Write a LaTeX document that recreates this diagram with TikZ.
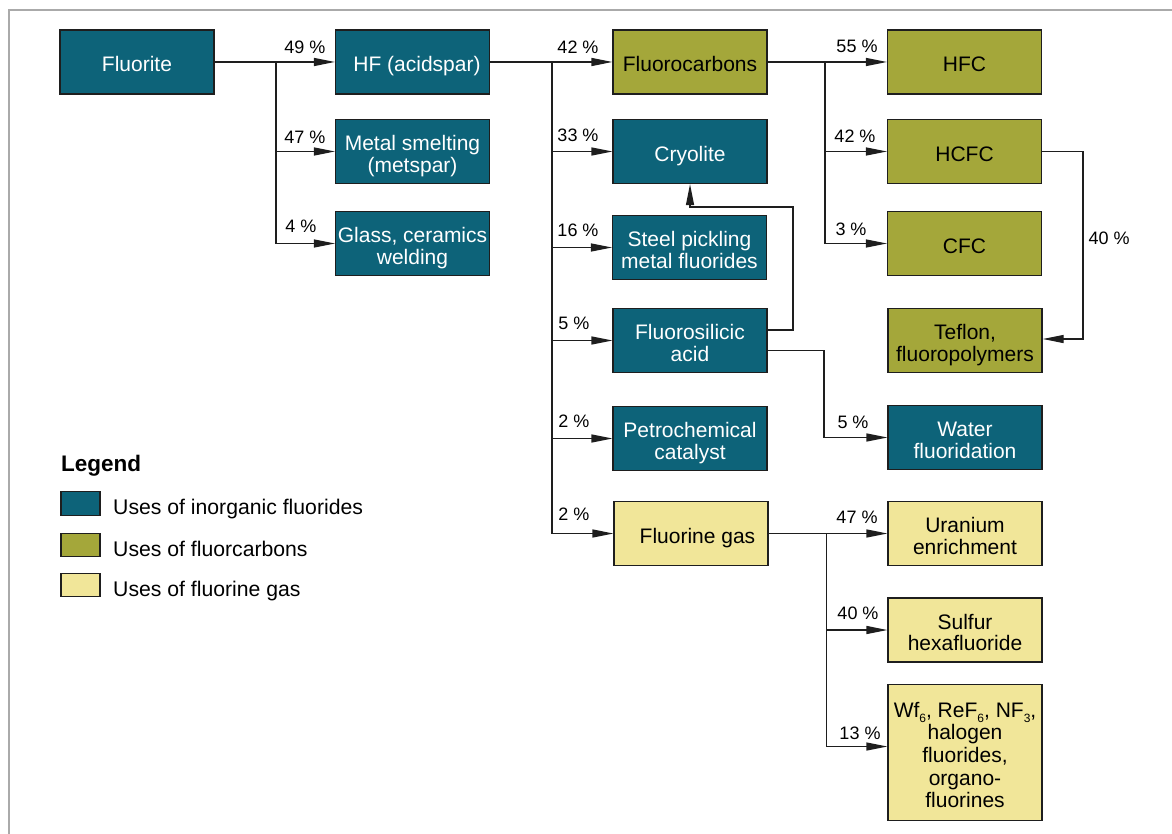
\documentclass[tikz,border=0pt]{standalone}
\usepackage{fontspec}
\setmainfont{Liberation Sans}
\usetikzlibrary{arrows.meta}
\definecolor{cteal}{RGB}{13,99,121}
\definecolor{colive}{RGB}{164,167,58}
\definecolor{cyellow}{RGB}{241,230,153}
\definecolor{cline}{RGB}{30,30,30}
\definecolor{cframe}{RGB}{170,170,170}
\newcommand{\tstrut}{\vrule width 0pt height 24.5pt depth 0pt\relax}
\newcommand{\lowsub}[1]{\raisebox{-5pt}{\fontsize{12}{12}\selectfont #1}}
\begin{document}
\begin{tikzpicture}[x=1pt,y=-1pt,
  box/.style={draw=cline, line width=1.2pt, minimum width=154pt, minimum height=64pt, inner sep=0pt, align=center,
    font=\fontsize{21}{21.5}\selectfont,
    execute at end node={\vrule width 0pt height 0pt depth 4.5pt}},
  inorg/.style={box, fill=cteal, text=white},
  fcarb/.style={box, fill=colive, text=black},
  fgas/.style={box, fill=cyellow, text=black},
  conn/.style={line width=1.2pt, draw=cline},
  arr/.style={conn, -{Triangle[length=21pt,width=8pt]}},
  pct/.style={font=\fontsize{18}{20}\selectfont, inner sep=0pt},
  swatch/.style={draw=cline, line width=1.2pt, minimum width=39pt, minimum height=23.5pt, inner sep=0pt},
  legtext/.style={anchor=base west, inner sep=0pt, font=\fontsize{21.2}{23}\selectfont}]
\useasboundingbox (0,0) rectangle (1172,834);
\draw[cframe, line width=1.5pt] (9,850) -- (9,10) -- (1190,10);

% column 1
\node[inorg] (fluorite) at (137,62) {\tstrut Fluorite};
% column 2
\node[inorg] (hf) at (412.5,62) {\tstrut\hspace*{9pt}HF (acidspar)};
\node[inorg] (metal) at (412.5,151.5) {\tstrut Metal smelting\\(metspar)};
\node[inorg] (glass) at (412.5,243.5) {\tstrut Glass, ceramics\\welding};
% column 3
\node[fcarb] (fluorocarbons) at (690,62) {\tstrut Fluorocarbons};
\node[inorg] (cryolite) at (690,151.5) {\tstrut Cryolite};
\node[inorg] (steel) at (689.5,247.5) {\tstrut Steel pickling\\metal fluorides};
\node[inorg] (fsa) at (690,340.5) {\tstrut Fluorosilicic\\acid};
\node[inorg] (petro) at (690,438.5) {\tstrut Petrochemical\\catalyst};
\node[fgas] (fgas) at (691,533.5) {\tstrut\hspace*{13pt}Fluorine gas};
% column 4
\node[fcarb] (hfc) at (964.5,62) {\tstrut HFC};
\node[fcarb] (hcfc) at (964.5,151.5) {\tstrut HCFC};
\node[fcarb] (cfc) at (964.5,243.5) {\tstrut CFC};
\node[fcarb] (teflon) at (965,340.5) {\tstrut Teflon,\\fluoropolymers};
\node[inorg] (water) at (965,437.5) {\tstrut Water\\fluoridation};
\node[fgas] (uranium) at (965,533.5) {\tstrut Uranium\\enrichment};
\node[fgas] (sulfur) at (965,630) {\tstrut Sulfur\\hexafluoride};
\node[fgas, minimum height=136pt, font=\fontsize{21}{22.7}\selectfont] (wf) at (965,752.5) {\tstrut Wf\lowsub{6}, ReF\lowsub{6}, NF\lowsub{3},\\halogen\\fluorides,\\organo-\\fluorines};

% junction points
\coordinate (j1) at (276,62);
\coordinate (j2) at (552,62);
\coordinate (j3) at (825,62);
\coordinate (j4) at (826.5,533.5);
\coordinate (c1) at (793,207);
\coordinate (c2) at (824,400);
\coordinate (c3) at (1083,250);

% Fluorite branches
\draw[arr] (fluorite.east) -- (hf.west);
\draw[arr] (j1) |- (metal.west);
\draw[arr] (j1) |- (glass.west);
% HF branches
\draw[arr] (hf.east) -- (fluorocarbons.west);
\draw[arr] (j2) |- (cryolite.west);
\draw[arr] (j2) |- (steel.west);
\draw[arr] (j2) |- (fsa.west);
\draw[arr] (j2) |- (petro.west);
\draw[arr] (j2) |- (fgas.west);
% Fluorocarbons branches
\draw[arr] (fluorocarbons.east) -- (hfc.west);
\draw[arr] (j3) |- (hcfc.west);
\draw[arr] (j3) |- (cfc.west);
% HCFC to Teflon
\draw[arr] (hcfc.east) -| (c3) |- ([yshift=1.5pt]teflon.east);
% Fluorosilicic acid
\draw[arr] ([yshift=10.5pt]fsa.east) -| (c1) -| (cryolite.south);
\draw[arr] ([yshift=-10pt]fsa.east) -| (c2) |- (water.west);
% Fluorine gas branches
\draw[arr] (fgas.east) -- (uranium.west);
\draw[arr] (j4) |- (sulfur.west);
\draw[arr] (j4) |- ([yshift=6pt]wf.west);

% percentages
\node[pct] (p1) at (305,47) {49 \%};
\node[pct] (p2) at (305,137) {47 \%};
\node[pct] (p3) at (301,226) {4 \%};
\node[pct] (p4) at (578,47) {42 \%};
\node[pct] (p5) at (578,135) {33 \%};
\node[pct] (p6) at (578,230) {16 \%};
\node[pct] (p7) at (574,323) {5 \%};
\node[pct] (p8) at (574,421) {2 \%};
\node[pct] (p9) at (574,514) {2 \%};
\node[pct] (p10) at (857,46) {55 \%};
\node[pct] (p11) at (855,136) {42 \%};
\node[pct] (p12) at (851,229) {3 \%};
\node[pct] (p13) at (1109,238) {40 \%};
\node[pct] (p14) at (853,422) {5 \%};
\node[pct] (p15) at (857,517) {47 \%};
\node[pct] (p16) at (858,613) {40 \%};
\node[pct] (p17) at (860,733) {13 \%};

% legend
\node[anchor=base west, inner sep=0pt, font=\fontsize{22.5}{24}\selectfont\bfseries] (legtitle) at (61,471) {Legend};
\node[swatch, fill=cteal] (s1) at (80.5,503.5) {};
\node[swatch, fill=colive] (s2) at (80.5,545) {};
\node[swatch, fill=cyellow] (s3) at (80.5,585) {};
\node[legtext] (l1) at (113,514) {Uses of inorganic fluorides};
\node[legtext] (l2) at (113,556.5) {Uses of fluorcarbons};
\node[legtext] (l3) at (113,596) {Uses of fluorine gas};
\end{tikzpicture}
\end{document}
